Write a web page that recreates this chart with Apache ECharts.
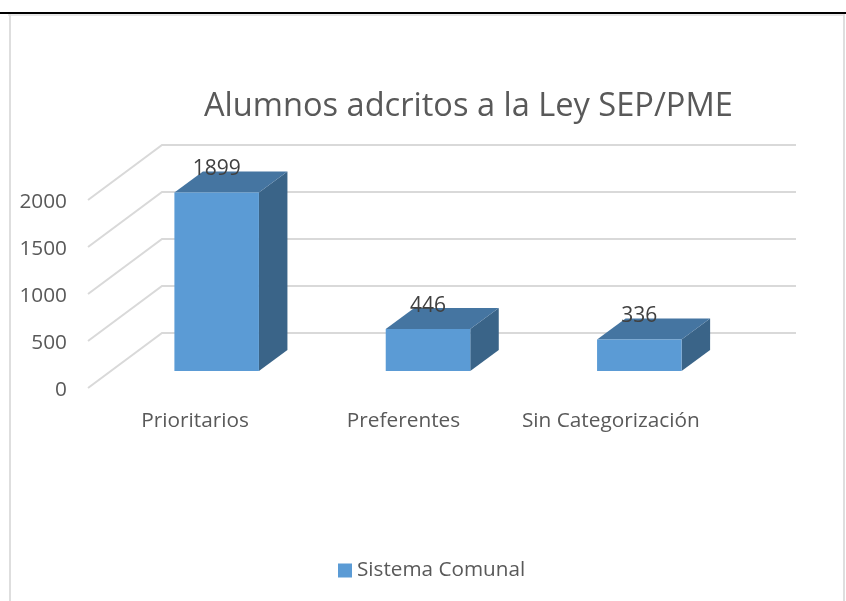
<!DOCTYPE html>
<html>
<head>
<meta charset="utf-8">
<title>Alumnos adcritos a la Ley SEP/PME</title>
<script src="https://cdn.jsdelivr.net/npm/echarts@6/dist/echarts.min.js"></script>
<style>
html, body { margin: 0; padding: 0; background: #fff; }
#chart { width: 846px; height: 601px; }
</style>
</head>
<body>
<div id="chart"></div>
<script>
// datos
var categories = ["Prioritarios", "Preferentes", "Sin Categorización"];
var valores = [1899, 446, 336];
var yTicks = [0, 500, 1000, 1500, 2000];
var serieNombre = "Sistema Comunal";
var titulo = "Alumnos adcritos a la Ley SEP/PME";

// profundidad del falso 3D, en pixeles
var wallDX = 74, wallDY = 55;   // pared del fondo
var baseDX = 23, baseDY = 17;   // donde apoya la barra
var barDX = 28.5, barDY = 21;   // fondo de la barra
var barRatio = 0.4;
var fontName = '"Open Sans", sans-serif';
var labelStyle = { color: '#595959', fontSize: 20.8, fontFamily: fontName };

var myChart = echarts.init(document.getElementById('chart'), null, { renderer: 'canvas' });

function renderWall(params, api) {
	var rect = params.coordSys;
	var y = api.coord([0, api.value(1)])[1];
	return {
		type: 'polyline',
		silent: true,
		shape: { points: [
			[rect.x, y],
			[rect.x + wallDX, y - wallDY],
			[rect.x + rect.width + wallDX, y - wallDY]
		] },
		style: { fill: null, stroke: '#D9D9D9', lineWidth: 2 }
	};
}

function renderBar(params, api) {
	var top = api.coord([api.value(0), api.value(1)]);
	var bottom = api.coord([api.value(0), 0]);
	var w = api.size([1, 0])[0] * barRatio;
	var x0 = top[0] - w / 2 + baseDX;
	var x1 = x0 + w;
	var yT = top[1] - baseDY;
	var yB = bottom[1] - baseDY;
	return {
		type: 'group',
		children: [
			{
				type: 'polygon',
				shape: { points: [[x1, yT], [x1 + barDX, yT - barDY], [x1 + barDX, yB - barDY], [x1, yB]] },
				style: { fill: '#3A6488' }
			},
			{
				type: 'polygon',
				shape: { points: [[x0, yT], [x0 + barDX, yT - barDY], [x1 + barDX, yT - barDY], [x1, yT]] },
				style: { fill: '#4575A1' }
			},
			{
				type: 'rect',
				shape: { x: x0, y: yT, width: w, height: yB - yT },
				style: { fill: '#5B9BD5' }
			},
			{
				type: 'text',
				z2: 10,
				style: {
					x: (x0 + x1) / 2,
					y: yT - 23,
					text: String(api.value(1)),
					fill: '#404040',
					font: '21px ' + fontName,
					align: 'center',
					verticalAlign: 'middle'
				}
			}
		]
	};
}

var wallData = [];
for (var i = 0; i < yTicks.length; i++) {
	wallData.push([0, yTicks[i]]);
}
var barData = [];
for (var j = 0; j < valores.length; j++) {
	barData.push([j, valores[j]]);
}

var option = {
	animation: false,
	backgroundColor: '#fff',
	textStyle: { fontFamily: fontName },
	title: {
		text: titulo,
		left: 199,
		top: 85,
		textStyle: { color: '#595959', fontSize: 32.6, fontWeight: 'normal', fontFamily: fontName }
	},
	legend: {
		data: [serieNombre],
		left: 333,
		top: 555,
		icon: 'rect',
		itemWidth: 14,
		itemHeight: 14,
		itemGap: 5,
		selectedMode: false,
		textStyle: { color: '#595959', fontSize: 20.7, fontFamily: fontName, padding: [0, 0, 0, 0] }
	},
	grid: { left: 88, top: 200, width: 634, height: 188 },
	xAxis: {
		type: 'category',
		data: categories,
		axisLine: { show: false },
		axisTick: { show: false },
		splitLine: { show: false },
		axisLabel: {
			color: '#595959',
			fontSize: 20.8,
			margin: 23,
			fontFamily: fontName,
			interval: 0,
			// en el original las etiquetas no quedan centradas del todo
			formatter: function (v, idx) { return '{c' + idx + '|' + v + '}'; },
			rich: {
				c0: Object.assign({ padding: [0, 0, 0, 3] }, labelStyle),
				c1: Object.assign({ padding: [0, 3, 0, 0] }, labelStyle),
				c2: Object.assign({ padding: [0, 11, 0, 0] }, labelStyle)
			}
		}
	},
	yAxis: {
		type: 'value',
		min: 0,
		max: 2000,
		interval: 500,
		axisLine: { show: false },
		axisTick: { show: false },
		splitLine: { show: false },
		axisLabel: {
			color: '#595959',
			fontSize: 20.8,
			margin: 21,
			fontFamily: fontName,
			formatter: function (v) { return '{t|' + v + '}'; },
			rich: {
				t: Object.assign({ padding: [4, 0, 0, 0] }, labelStyle)
			}
		}
	},
	series: [
		{
			name: 'pared',
			type: 'custom',
			renderItem: renderWall,
			data: wallData,
			z: 1,
			silent: true
		},
		{
			name: serieNombre,
			type: 'custom',
			renderItem: renderBar,
			data: barData,
			itemStyle: { color: '#5B9BD5' },
			z: 2,
			silent: true
		}
	],
	graphic: [
		{ type: 'rect', silent: true, shape: { x: 8, y: 14, width: 837, height: 2 }, style: { fill: '#E7E7E7' }, z: 0 },
		{ type: 'rect', silent: true, shape: { x: 9, y: 14, width: 2, height: 587 }, style: { fill: '#DEDEDE' }, z: 0 },
		{ type: 'rect', silent: true, shape: { x: 843, y: 14, width: 2, height: 587 }, style: { fill: '#DEDEDE' }, z: 0 },
		{ type: 'rect', silent: true, shape: { x: 0, y: 12, width: 846, height: 2 }, style: { fill: '#000' }, z: 0 }
	]
};
myChart.setOption(option);
</script>
</body>
</html>
